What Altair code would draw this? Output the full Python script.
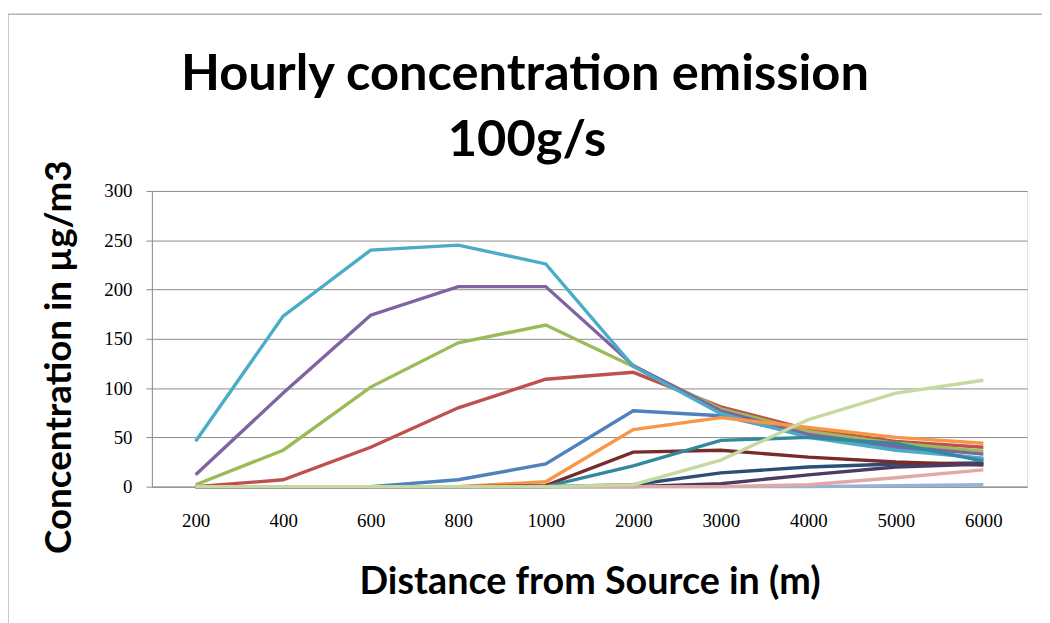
import altair as alt
import pandas as pd

distances = ["200", "400", "600", "800", "1000", "2000", "3000", "4000", "5000", "6000"]

series_names = ["S01", "S02", "S03", "S04", "S05", "S06", "S07", "S08", "S09", "S10", "S11", "S12", "S13"]
series_colors = ["#4F81BD", "#C0504D", "#9BBB59", "#8064A2", "#4BACC6", "#F79646",
                 "#2C4D75", "#772C2A", "#31899B", "#4D3B62", "#95B3D7", "#E2A8A6", "#C6D9A2"]

s01 = [0, 0, 0, 7, 23, 77, 72, 52, 40, 28]
s02 = [0, 7, 40, 80, 109, 116, 81, 58, 46, 40]
s03 = [2, 37, 101, 146, 164, 122, 79, 56, 44, 36]
s04 = [12, 95, 174, 203, 203, 123, 77, 53, 41, 33]
s05 = [46, 173, 240, 245, 226, 122, 74, 50, 37, 29]
s06 = [0, 0, 0, 0, 5, 58, 70, 60, 50, 44]
s07 = [0, 0, 0, 0, 0, 2, 14, 20, 23, 24]
s08 = [0, 0, 0, 0, 1, 35, 37, 30, 25, 22]
s09 = [0, 0, 0, 0, 0, 21, 47, 50, 44, 26]
s10 = [0, 0, 0, 0, 0, 0, 3, 12, 20, 23]
s11 = [0, 0, 0, 0, 0, 0, 0, 0, 1, 2]
s12 = [0, 0, 0, 0, 0, 0, 0, 2, 9, 17]
s13 = [0, 0, 0, 0, 0, 2, 27, 68, 95, 108]

all_series = [s01, s02, s03, s04, s05, s06, s07, s08, s09, s10, s11, s12, s13]

title_lines = ["Hourly concentration emission", "100g/s"]

rows = []
for name, vals in zip(series_names, all_series):
    for i, (d, v) in enumerate(zip(distances, vals)):
        rows.append({"series": name, "distance": d, "idx": i, "value": v})
df = pd.DataFrame(rows)

PLOT_W = 882
PLOT_H = 298

lines = alt.Chart(df).mark_line(strokeWidth=3.4, interpolate="linear").encode(
    x=alt.X("distance:N", sort=distances, scale=alt.Scale(type="point", padding=0.5),
            axis=alt.Axis(title="Distance from Source in (m)", labelAngle=0, ticks=False,
                          labelFont="Liberation Serif", labelFontSize=19, labelColor="#000000",
                          labelPadding=25, domainColor="#8c8c8c", grid=False,
                          titleFont="Lato", titleFontSize=38, titleFontWeight="bold",
                          titleColor="#000000", titlePadding=34)),
    y=alt.Y("value:Q", scale=alt.Scale(domain=[0, 300], nice=False),
            axis=alt.Axis(title="Concentration in µg/m3", values=[0, 50, 100, 150, 200, 250, 300],
                          tickSize=6, tickColor="#8c8c8c", domainColor="#8c8c8c",
                          gridColor="#8c8c8c", gridWidth=1,
                          labelFont="Liberation Serif", labelFontSize=19, labelColor="#000000",
                          labelPadding=14,
                          titleFont="Lato", titleFontSize=37, titleFontWeight="bold",
                          titleColor="#000000", titleAngle=270, titleX=-93, titleY=167,
                          titleAlign="center", titleBaseline="middle")),
    color=alt.Color("series:N", scale=alt.Scale(domain=series_names, range=series_colors), legend=None),
    order=alt.Order("idx:Q"),
)

frame = alt.Chart(pd.DataFrame({"k": [0]})).mark_rect(fill=None, stroke="#b5b5b5", strokeWidth=1.5).encode(
    x=alt.value(-145), y=alt.value(-178), x2=alt.value(960), y2=alt.value(480)
)

title1 = alt.Chart(pd.DataFrame({"t": [title_lines[0]]})).mark_text(
    font="Lato", fontSize=51, fontWeight="bold", color="#000000", align="center", baseline="alphabetic"
).encode(text="t:N", x=alt.value(376), y=alt.value(-102))

title2 = alt.Chart(pd.DataFrame({"t": [title_lines[1]]})).mark_text(
    font="Lato", fontSize=51, fontWeight="bold", color="#000000", align="center", baseline="alphabetic"
).encode(text="t:N", x=alt.value(378), y=alt.value(-35))

chart = alt.layer(frame, lines, title1, title2).properties(
    width=PLOT_W,
    height=PLOT_H,
    autosize=alt.AutoSizeParams(type="none"),
    padding={"left": 145, "top": 182, "right": 15, "bottom": 135},
).configure_view(stroke=None).configure(background="#ffffff")

chart.save("out.html", embed_options={"renderer": "svg", "actions": False})
